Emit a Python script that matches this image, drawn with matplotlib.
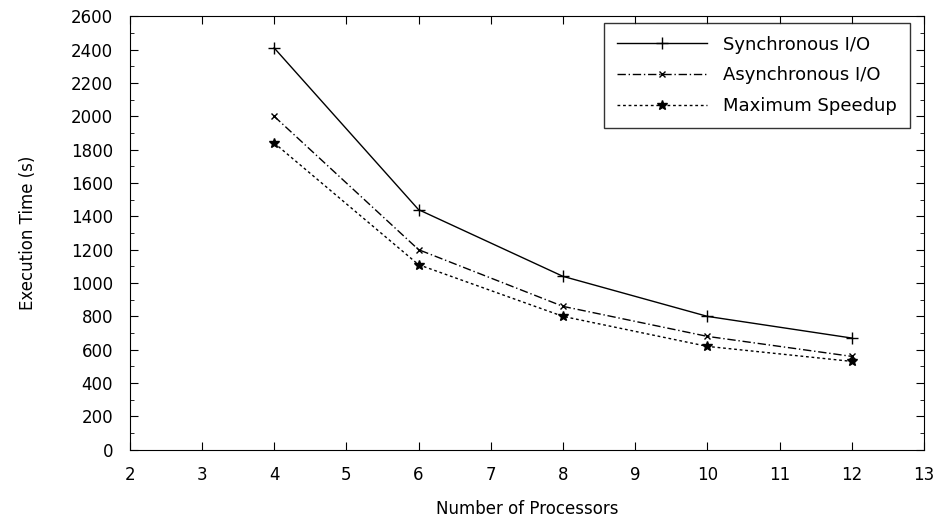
import matplotlib
matplotlib.use("Agg")
from matplotlib import pyplot as plt
from matplotlib.ticker import MultipleLocator

plt.rcParams['font.family'] = ['DejaVu Sans']

# Data
processors = [4, 6, 8, 10, 12]
sync_io = [2410, 1440, 1040, 800, 670]
async_io = [2000, 1200, 860, 680, 560]
max_speedup = [1840, 1110, 800, 620, 530]

fig, ax = plt.subplots(figsize=(9.4, 5.23), dpi=100)
fig.subplots_adjust(left=0.138, right=0.983, top=0.969, bottom=0.140)

ax.plot(processors, sync_io, color='black', linestyle='-', linewidth=1.0,
        marker='+', markersize=8, label='Synchronous I/O')
ax.plot(processors, async_io, color='black', linestyle=(0, (6, 2, 1, 2)), linewidth=1.0,
        marker='x', markersize=5, label='Asynchronous I/O')
ax.plot(processors, max_speedup, color='black', linestyle=(0, (2, 2)), linewidth=1.0,
        marker='*', markersize=7, label='Maximum Speedup')

ax.set_xlim(2, 13)
ax.set_ylim(0, 2600)
ax.xaxis.set_major_locator(MultipleLocator(1))
ax.yaxis.set_major_locator(MultipleLocator(200))
ax.yaxis.set_minor_locator(MultipleLocator(100))
ax.tick_params(which='both', direction='in', top=True, right=True, labelsize=12)
ax.tick_params(which='major', length=6)
ax.tick_params(which='minor', length=3)
ax.tick_params(axis='y', pad=12)
ax.tick_params(axis='x', pad=12)

ax.set_xlabel('Number of Processors', fontsize=12, labelpad=11)
ax.set_ylabel('Execution Time (s)', fontsize=12, labelpad=24)

leg = ax.legend(loc='upper right', fontsize=13, frameon=True, fancybox=False,
                edgecolor='black', handlelength=5.0, handletextpad=0.9,
                labelspacing=0.7, borderpad=0.7, borderaxespad=0,
                bbox_to_anchor=(0.982, 0.984))
leg.get_frame().set_linewidth(1.0)

fig.savefig('out.png', dpi=100)
